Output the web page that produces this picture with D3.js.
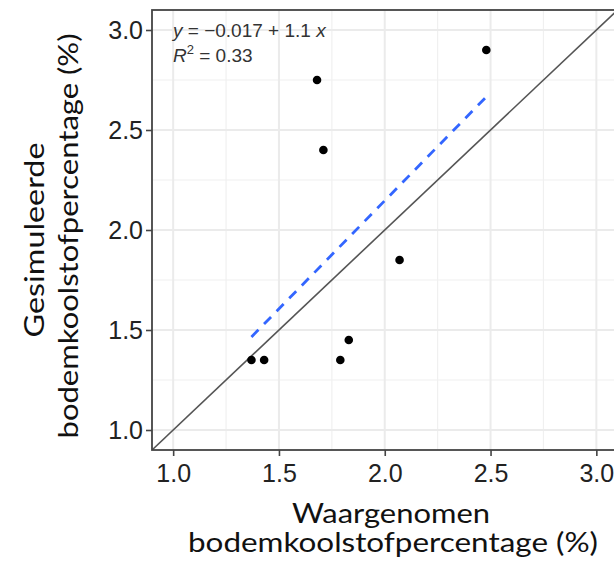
<!DOCTYPE html>
<html>
<head>
<meta charset="utf-8">
<script src="https://cdn.jsdelivr.net/npm/d3@7"></script>
<style>
  html, body { margin: 0; padding: 0; background: #fff; }
  svg { display: block; }
</style>
</head>
<body>
<svg id="chart" width="614" height="569"></svg>
<script>
// ---- data ----
const observed  = [1.37, 1.43, 1.79, 1.83, 1.68, 1.71, 2.48, 2.07];
const simulated = [1.35, 1.35, 1.35, 1.45, 2.75, 2.40, 2.90, 1.85];
const majorTicks = [1.0, 1.5, 2.0, 2.5, 3.0];
const minorTicks = [1.25, 1.75, 2.25, 2.75];
const axisDomain = [0.9, 3.1];
const eqIntercept = "\u22120.017";
const eqSlope = "1.1";
const r2Label = "0.33";
const xTitleLines = ["Waargenomen", "bodemkoolstofpercentage (%)"];
const yTitleLines = ["Gesimuleerde", "bodemkoolstofpercentage (%)"];

(function () {
// ---- layout ----
const svg = d3.select("#chart");
const pL = 152, pR = 617.5, pT = 10, pB = 450;
const x = d3.scaleLinear().domain(axisDomain).range([pL, pR]);
const y = d3.scaleLinear().domain(axisDomain).range([pB, pT]);

svg.append("defs").append("clipPath").attr("id", "clip")
  .append("rect").attr("x", pL).attr("y", pT).attr("width", pR - pL).attr("height", pB - pT);

const panel = svg.append("g").attr("clip-path", "url(#clip)");
panel.append("rect").attr("x", pL).attr("y", pT).attr("width", pR - pL).attr("height", pB - pT).attr("fill", "#fff");

// grid
panel.selectAll(".vmin").data(minorTicks).join("line")
  .attr("x1", d => x(d)).attr("x2", d => x(d)).attr("y1", pT).attr("y2", pB)
  .attr("stroke", "#f0f0f0").attr("stroke-width", 1.2);
panel.selectAll(".hmin").data(minorTicks).join("line")
  .attr("y1", d => y(d)).attr("y2", d => y(d)).attr("x1", pL).attr("x2", pR)
  .attr("stroke", "#f0f0f0").attr("stroke-width", 1.2);
panel.selectAll(".vmaj").data(majorTicks).join("line")
  .attr("x1", d => x(d)).attr("x2", d => x(d)).attr("y1", pT).attr("y2", pB)
  .attr("stroke", "#ebebeb").attr("stroke-width", 2);
panel.selectAll(".hmaj").data(majorTicks).join("line")
  .attr("y1", d => y(d)).attr("y2", d => y(d)).attr("x1", pL).attr("x2", pR)
  .attr("stroke", "#ebebeb").attr("stroke-width", 2);

// 1:1 line
panel.append("line")
  .attr("x1", x(axisDomain[0])).attr("y1", y(axisDomain[0]))
  .attr("x2", x(axisDomain[1])).attr("y2", y(axisDomain[1]))
  .attr("stroke", "#555").attr("stroke-width", 1.6);

// regression (OLS) over data range
const mx = d3.mean(observed), my = d3.mean(simulated);
let sxy = 0, sxx = 0;
observed.forEach((v, i) => { sxy += (v - mx) * (simulated[i] - my); sxx += (v - mx) * (v - mx); });
const slope = sxy / sxx, intercept = my - slope * mx;
const [xmin, xmax] = d3.extent(observed);
panel.append("line")
  .attr("x1", x(xmin)).attr("y1", y(intercept + slope * xmin))
  .attr("x2", x(xmax)).attr("y2", y(intercept + slope * xmax))
  .attr("stroke", "#3366FF").attr("stroke-width", 2.8)
  .attr("stroke-dasharray", "10,8");

// points
panel.selectAll(".pt").data(observed).join("circle")
  .attr("cx", d => x(d)).attr("cy", (d, i) => y(simulated[i]))
  .attr("r", 4.3).attr("fill", "#000");

// annotation
const ann = svg.append("g").attr("font-family", "Liberation Sans, Arial, sans-serif")
  .attr("font-size", 19).attr("fill", "#333");
const t1 = ann.append("text").attr("x", 173).attr("y", 37);
t1.append("tspan").attr("font-style", "italic").text("y");
t1.append("tspan").text(" = " + eqIntercept + " + " + eqSlope + " ");
t1.append("tspan").attr("font-style", "italic").text("x");
const t2 = ann.append("text").attr("x", 173).attr("y", 62);
t2.append("tspan").attr("font-style", "italic").text("R");
t2.append("tspan").attr("font-size", 13).attr("dy", -8).text("2");
t2.append("tspan").attr("dy", 8).text(" = " + r2Label);

// border
svg.append("rect").attr("x", pL).attr("y", pT).attr("width", pR - pL + 4).attr("height", pB - pT)
  .attr("fill", "none").attr("stroke", "#444").attr("stroke-width", 1.8);

// axes
const fmt = d3.format(".1f");
const yAxis = svg.append("g").attr("transform", `translate(${pL},0)`)
  .call(d3.axisLeft(y).tickValues(majorTicks).tickFormat(fmt).tickSize(6).tickPadding(3));
const xAxis = svg.append("g").attr("transform", `translate(0,${pB})`)
  .call(d3.axisBottom(x).tickValues(majorTicks).tickFormat(fmt).tickSize(6).tickPadding(8));
[yAxis, xAxis].forEach(a => {
  a.select(".domain").remove();
  a.selectAll(".tick line").attr("stroke", "#444").attr("stroke-width", 1.6);
  a.selectAll(".tick text").attr("fill", "#222")
    .attr("font-family", "Liberation Sans, Arial, sans-serif").attr("font-size", 25);
});

// titles
const titleFont = "Lato, 'Open Sans', sans-serif";
const fs = 27;
const xt = svg.append("g").attr("font-family", titleFont).attr("fill", "#111").attr("font-size", fs);
xt.append("text").attr("x", 391).attr("y", 523).attr("text-anchor", "middle")
  .attr("textLength", 198).attr("lengthAdjust", "spacingAndGlyphs").text(xTitleLines[0]);
xt.append("text").attr("x", 393).attr("y", 552).attr("text-anchor", "middle")
  .attr("textLength", 410).attr("lengthAdjust", "spacingAndGlyphs").text(xTitleLines[1]);

const yt = svg.append("g").attr("font-family", titleFont).attr("fill", "#111").attr("font-size", fs);
yt.append("text").attr("transform", "translate(44,240) rotate(-90)").attr("text-anchor", "middle")
  .attr("textLength", 195).attr("lengthAdjust", "spacingAndGlyphs").text(yTitleLines[0]);
yt.append("text").attr("transform", "translate(78,236) rotate(-90)").attr("text-anchor", "middle")
  .attr("textLength", 405).attr("lengthAdjust", "spacingAndGlyphs").text(yTitleLines[1]);
})();
</script>
</body>
</html>
